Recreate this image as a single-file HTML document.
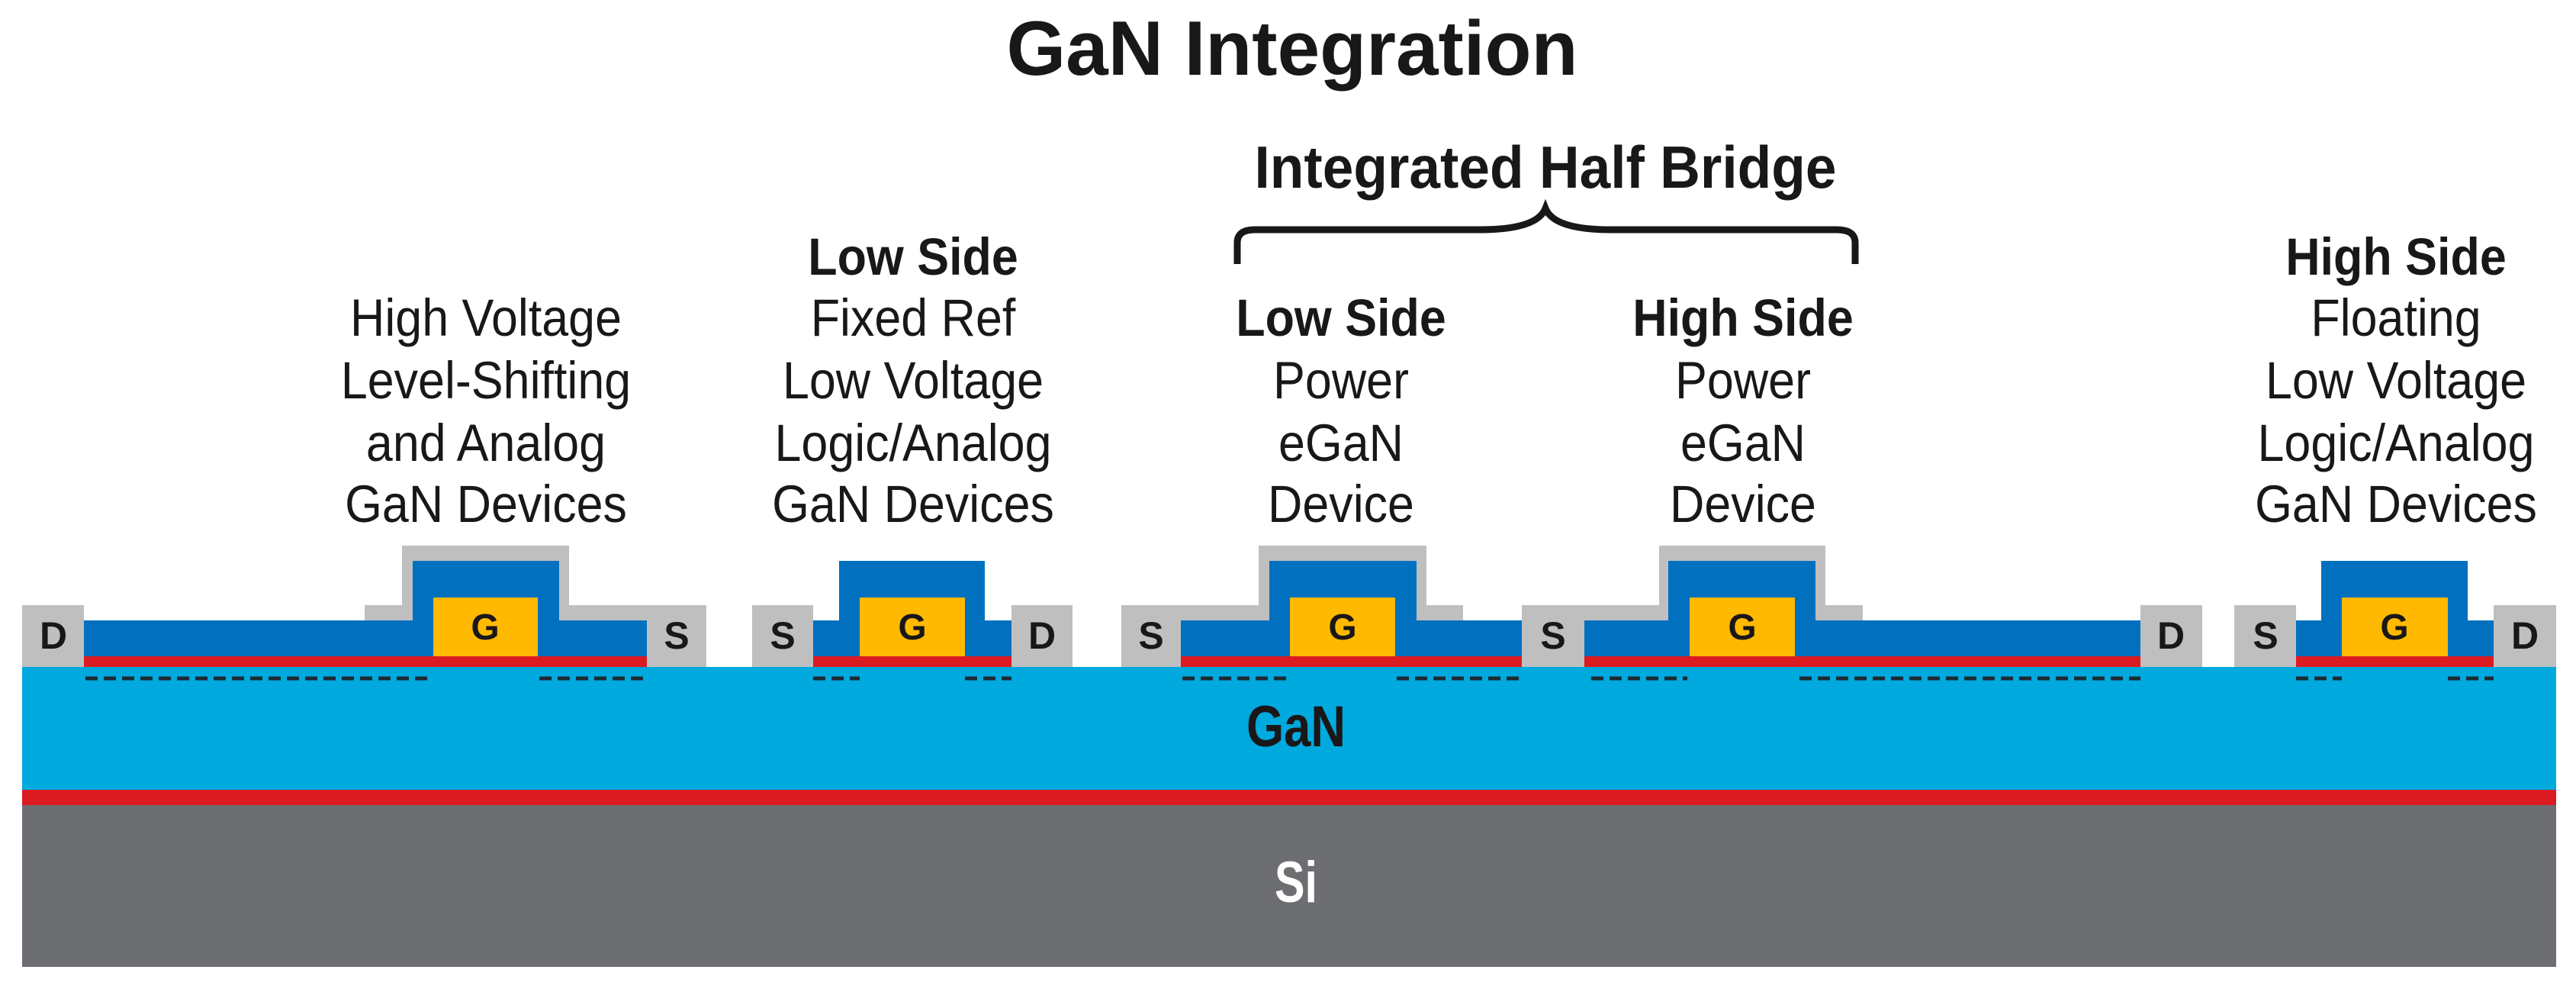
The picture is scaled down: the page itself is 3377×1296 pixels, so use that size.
<!DOCTYPE html>
<html><head><meta charset="utf-8"><style>
html,body{margin:0;padding:0;background:#fff}
svg{display:block}
text{font-family:"Liberation Sans",Arial,sans-serif;fill:#1a1718}
.b{font-weight:bold}
</style></head><body>
<svg width="3377" height="1296" viewBox="0 0 3377 1296" xmlns="http://www.w3.org/2000/svg">
<rect width="3377" height="1296" fill="#fff"/>
<!-- Substrate layers -->
<rect x="29" y="1054" width="3322" height="213" fill="#6d6e71"/>
<rect x="29" y="1035" width="3322" height="20" fill="#dc1a22"/>
<rect x="29" y="874" width="3322" height="161" fill="#00a9de"/>

<!-- Grey field plates -->
<g fill="#c0bfc0">
  <rect x="527" y="715" width="219" height="98"/>
  <rect x="478" y="793" width="370" height="20"/>
  <rect x="1650" y="715" width="220" height="98"/>
  <rect x="1548" y="793" width="370" height="20"/>
  <rect x="2175" y="715" width="218" height="98"/>
  <rect x="2077" y="793" width="365" height="20"/>
  <!-- contacts -->
  <rect x="29" y="793" width="81" height="81"/>
  <rect x="848" y="793" width="78" height="81"/>
  <rect x="986" y="793" width="80" height="81"/>
  <rect x="1326" y="793" width="80" height="81"/>
  <rect x="1470" y="793" width="78" height="81"/>
  <rect x="1995" y="793" width="82" height="81"/>
  <rect x="2806" y="793" width="81" height="81"/>
  <rect x="2929" y="793" width="81" height="81"/>
  <rect x="3269" y="793" width="82" height="81"/>
</g>
<!-- Blue bodies -->
<g fill="#0070bf">
  <rect x="110" y="813" width="738" height="47"/>
  <rect x="541" y="735" width="192" height="125"/>
  <rect x="1066" y="813" width="260" height="47"/>
  <rect x="1100" y="735" width="191" height="125"/>
  <rect x="1548" y="813" width="447" height="47"/>
  <rect x="1664" y="735" width="193" height="125"/>
  <rect x="2077" y="813" width="729" height="47"/>
  <rect x="2187" y="735" width="193" height="125"/>
  <rect x="3010" y="813" width="259" height="47"/>
  <rect x="3043" y="735" width="192" height="125"/>
</g>
<!-- Gates -->
<g fill="#ffb900">
  <rect x="568" y="783" width="137" height="77"/>
  <rect x="1127" y="783" width="138" height="77"/>
  <rect x="1691" y="783" width="138" height="77"/>
  <rect x="2215" y="783" width="138" height="77"/>
  <rect x="3070" y="783" width="139" height="77"/>
</g>
<!-- Red strips -->
<g fill="#dc1a22">
  <rect x="110" y="860" width="738" height="14"/>
  <rect x="1066" y="860" width="260" height="14"/>
  <rect x="1548" y="860" width="447" height="14"/>
  <rect x="2077" y="860" width="729" height="14"/>
  <rect x="3010" y="860" width="259" height="14"/>
</g>
<!-- Dashes -->
<g stroke="#1d2a33" stroke-width="5" stroke-dasharray="16 8">
  <line x1="112" y1="889" x2="568" y2="889"/>
  <line x1="707" y1="889" x2="848" y2="889"/>
  <line x1="1066" y1="889" x2="1127" y2="889"/>
  <line x1="1265" y1="889" x2="1326" y2="889"/>
  <line x1="1550" y1="889" x2="1690" y2="889"/>
  <line x1="1831" y1="889" x2="1995" y2="889"/>
  <line x1="2086" y1="889" x2="2212" y2="889"/>
  <line x1="2359" y1="889" x2="2806" y2="889"/>
  <line x1="3010" y1="889" x2="3070" y2="889"/>
  <line x1="3209" y1="889" x2="3269" y2="889"/>
</g>
<!-- Terminal labels -->
<g class="b" font-size="50" text-anchor="middle" font-weight="bold">
  <text x="70" y="850" class="b">D</text>
  <text x="887" y="850" class="b">S</text>
  <text x="1026" y="850" class="b">S</text>
  <text x="1366" y="850" class="b">D</text>
  <text x="1509" y="850" class="b">S</text>
  <text x="2036" y="850" class="b">S</text>
  <text x="2846" y="850" class="b">D</text>
  <text x="2970" y="850" class="b">S</text>
  <text x="3310" y="850" class="b">D</text>
</g>
<g font-size="48" text-anchor="middle">
  <text x="636" y="838" class="b">G</text>
  <text x="1196" y="838" class="b">G</text>
  <text x="1760" y="838" class="b">G</text>
  <text x="2284" y="838" class="b">G</text>
  <text x="3139" y="838" class="b">G</text>
</g>
<text x="1699" y="978" font-size="76" text-anchor="middle" class="b" textLength="130" lengthAdjust="spacingAndGlyphs">GaN</text>
<text x="1699" y="1182" font-size="76" text-anchor="middle" class="b" style="fill:#fff" textLength="56" lengthAdjust="spacingAndGlyphs">Si</text>

<!-- Title -->
<text x="1694" y="98" font-size="101" text-anchor="middle" class="b" textLength="749" lengthAdjust="spacingAndGlyphs">GaN Integration</text>
<text x="2026" y="246" font-size="78" text-anchor="middle" class="b" textLength="763" lengthAdjust="spacingAndGlyphs">Integrated Half Bridge</text>
<!-- Brace -->
<path d="M1622 346 V318 Q1622 301 1645 301 H1940 Q2015 301 2026 273 Q2037 301 2112 301 H2408 Q2432 301 2432 318 V346" fill="none" stroke="#1a1718" stroke-width="9"/>

<!-- Column texts -->
<g font-size="69" text-anchor="middle">
  <g transform="translate(637,0) scale(0.91,1)">
    <text x="0" y="440">High Voltage</text>
    <text x="0" y="522">Level-Shifting</text>
    <text x="0" y="604">and Analog</text>
    <text x="0" y="684">GaN Devices</text>
  </g>
  <g transform="translate(1197,0) scale(0.91,1)">
    <text x="0" y="360" class="b">Low Side</text>
    <text x="0" y="440">Fixed Ref</text>
    <text x="0" y="522">Low Voltage</text>
    <text x="0" y="604">Logic/Analog</text>
    <text x="0" y="684">GaN Devices</text>
  </g>
  <g transform="translate(1758,0) scale(0.91,1)">
    <text x="0" y="440" class="b">Low Side</text>
    <text x="0" y="522">Power</text>
    <text x="0" y="604">eGaN</text>
    <text x="0" y="684">Device</text>
  </g>
  <g transform="translate(2285,0) scale(0.91,1)">
    <text x="0" y="440" class="b">High Side</text>
    <text x="0" y="522">Power</text>
    <text x="0" y="604">eGaN</text>
    <text x="0" y="684">Device</text>
  </g>
  <g transform="translate(3141,0) scale(0.91,1)">
    <text x="0" y="360" class="b">High Side</text>
    <text x="0" y="440">Floating</text>
    <text x="0" y="522">Low Voltage</text>
    <text x="0" y="604">Logic/Analog</text>
    <text x="0" y="684">GaN Devices</text>
  </g>
</g>
</svg>
</body></html>
